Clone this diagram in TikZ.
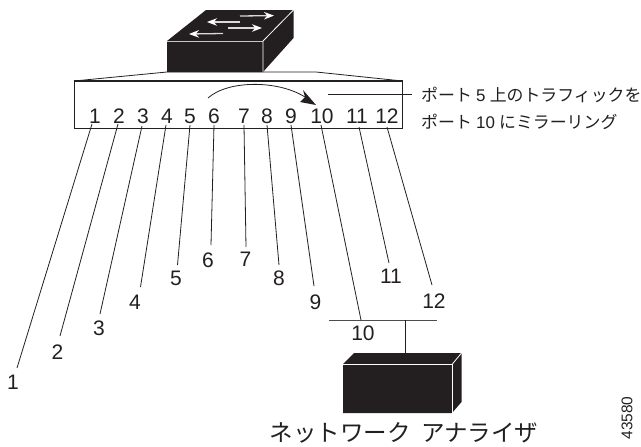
\documentclass[tikz,border=0pt]{standalone}
\usepackage{fontspec}
\setmainfont{Liberation Sans}
\newfontfamily\jpfont{Noto Sans CJK JP}
\usetikzlibrary{arrows.meta}
\definecolor{ink}{HTML}{231F20}
\tikzset{
  wire/.style={draw=ink,line width=0.8pt},
  solid3d/.style={fill=ink,draw=none},
  edgeline/.style={draw=white,line width=0.8pt},
  whitearrow/.style={draw=white!85!black,line width=1.3pt,-{Stealth[length=10pt,width=7.5pt,fill=white,color=white]}},
  num/.style={inner sep=0pt,text=ink,font=\fontsize{21}{21}\selectfont},
  note/.style={inner sep=0pt,anchor=west,text=ink,font=\jpfont\fontsize{16.9}{17}\selectfont},
}
\begin{document}
\begin{tikzpicture}[x=1pt,y=-1pt]
\useasboundingbox (0,0) rectangle (641,447);
% switch
\fill[solid3d] (167,41) -- (206,10) -- (293.5,10) -- (293.5,38) -- (263,72) -- (167,72) -- cycle;
\draw[edgeline,draw=gray!45,line width=1pt] (167,41) -- (263,41);
\draw[edgeline] (263,72) -- (263,41) -- (293.5,10);
\coordinate (a1s) at (240,16); \coordinate (a1e) at (274,15.6);
\coordinate (a2s) at (240,22); \coordinate (a2e) at (207,22);
\coordinate (a3s) at (228,28); \coordinate (a3e) at (262,28);
\coordinate (a4s) at (223,33.5); \coordinate (a4e) at (189,34);
\draw[whitearrow] (a1s) -- (a1e);
\draw[whitearrow] (a2s) -- (a2e);
\draw[whitearrow] (a3s) -- (a3e);
\draw[whitearrow] (a4s) -- (a4e);
% panel
\coordinate (pTL) at (74,81); \coordinate (pBR) at (402.5,128);
\coordinate (swL) at (167,72); \coordinate (swR) at (316,72);
\draw[wire] (pTL) rectangle (pBR);
\draw[draw=ink,line width=1.3pt] (74,81) -- (402.5,81);
\draw[wire] (pTL) -- (swL) -- (swR) -- (402.5,81);
% mirror arrow
\coordinate (m1) at (208,98); \coordinate (m2) at (305,97);
\draw[wire] (m1) .. controls (228,80) and (278,80) .. (m2);
\fill[ink] (316,105) -- (303,90) -- (305,97) -- (300,102) -- cycle;
% note
\coordinate (n1) at (328,94); \coordinate (n2) at (412,94);
\draw[wire] (n1) -- (n2);
\node[note] (noteA) at (421,95) {ポート\hspace{0.25em}{\fontspec{Liberation Sans}5}\hspace{0.25em}上のトラフィックを};
\node[note] (noteB) at (421,121.5) {ポート\hspace{0.25em}{\fontspec{Liberation Sans}10}\hspace{0.25em}にミラーリング};
% port labels and connectors
\foreach \n/\tx/\sx/\sy/\ex/\ey/\lx/\ly in {
 1/95/92/124/17/368/13/382,
 2/119/118/124/60/336/57.5/352,
 3/143/142/126/100/314/99/328,
 4/167/166/125/140.5/287/135/302,
 5/190/190/125/177.5/265/176/278,
 6/214/214/125/211/245/208/260,
 7/244/244/125/246/247/245.5/259,
 8/267/267/125/279/265/279/278,
 9/291/291/125/314/286/315.5/302,
 11/357/359/127/389/263/391/276,
 12/387/387/127/432/285/434/301}{
  \node[num] (top\n) at (\tx,116) {\n};
  \node[num] (low\n) at (\lx,\ly) {\n};
  \coordinate (s\n) at (\sx,\sy);
  \coordinate (e\n) at (\ex,\ey);
  \draw[wire] (s\n) -- (e\n);
}
\node[num] (top10) at (322,116) {10};
\node[num] (low10) at (363,333) {10};
% analyzer bus
\coordinate (busL) at (329,320); \coordinate (busR) at (437,320);
\coordinate (bus10) at (361,320); \coordinate (busA) at (405,320);
\coordinate (s10) at (321,125);
\coordinate (anTop) at (405,353);
\draw[wire,draw=ink!80] (busL) -- (busR);
\draw[wire] (s10) -- (bus10);
\draw[wire] (busA) -- (anTop);
% analyzer
\fill[solid3d] (343,364) -- (354,353) -- (461.5,353) -- (461.5,402) -- (452,413) -- (343,413) -- cycle;
\draw[edgeline] (343,364.5) -- (452,364.5) -- (452,413);
\draw[edgeline] (452,364.5) -- (461.5,353);
\node[inner sep=0pt,text=ink,font=\jpfont\fontsize{23.5}{24}\selectfont] (an) at (404,433) {ネットワーク\hspace{0.45em}アナライザ};
\node[inner sep=0pt,text=ink,rotate=90,font=\fontsize{15.5}{15.5}\selectfont] (code) at (627,418) {43580};
\end{tikzpicture}
\end{document}
